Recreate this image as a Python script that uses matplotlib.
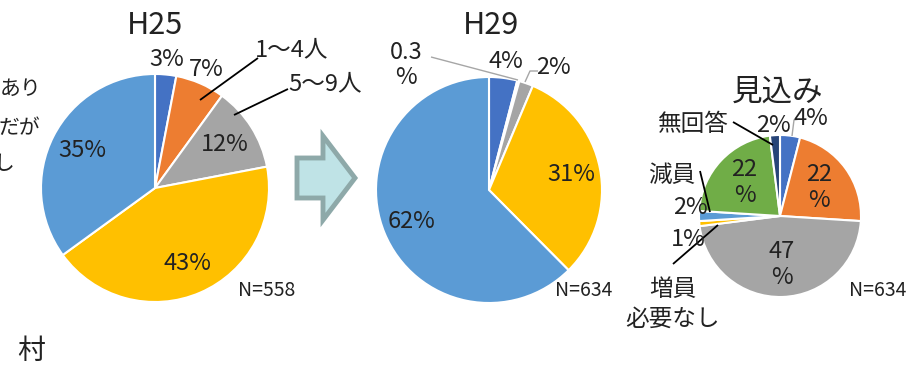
import numpy as np
import matplotlib.pyplot as plt
from matplotlib.patches import Polygon

plt.rcParams['font.family'] = ['Noto Sans CJK JP', 'DejaVu Sans']

W, H = 912, 368

# データ
h25_vals = [3, 7, 12, 43, 35]
h25_labels = ['3%', '7%', '12%', '43%', '35%']
h29_vals = [4, 0.3, 2, 31, 62]
h29_labels = ['4%', '0.3\n%', '2%', '31%', '62%']
mikomi_vals = [4, 22, 47, 1, 2, 22, 2]
mikomi_labels = ['4%', '22\n%', '47\n%', '1%', '2%', '22\n%', '2%']

colors5 = ['#4472C4', '#ED7D31', '#A5A5A5', '#FFC000', '#5B9BD5']
colors7 = ['#4472C4', '#ED7D31', '#A5A5A5', '#FFC000', '#5B9BD5', '#70AD47', '#264478']

fig = plt.figure(figsize=(9.12, 3.68), dpi=100)
ax = fig.add_axes([0, 0, 1, 1])


def draw_pie(vals, colors, cx, cy, r):
    # cx, cy は画像のピクセル座標（y は上から）
    ax.pie(vals, colors=colors, center=(cx, H - cy), radius=r, startangle=90,
           counterclock=False, wedgeprops=dict(edgecolor='white', linewidth=1.5))


def label_pos(vals, i, cx, cy, r, frac):
    total = sum(vals)
    mid = (sum(vals[:i]) + vals[i] / 2) / total * 2 * np.pi
    return cx + frac * r * np.sin(mid), cy - frac * r * np.cos(mid)


def txt(x, y, s, size=17, ha='center', color='#222222'):
    ax.text(x, H - y, s, fontsize=size, ha=ha, va='center', color=color,
            linespacing=1.15)


def line(pts, color='black', lw=1.3):
    xs = [p[0] for p in pts]
    ys = [H - p[1] for p in pts]
    ax.plot(xs, ys, color=color, lw=lw, solid_capstyle='butt')


# H25
c25 = (155, 188, 114)
draw_pie(h25_vals, colors5, *c25)
for i, frac in [(0, 1.13), (1, 1.13), (2, 0.72), (3, 0.72), (4, 0.72)]:
    x, y = label_pos(h25_vals, i, *c25, frac)
    txt(x, y, h25_labels[i])
txt(155, 25, 'H25', size=22)
txt(267, 290, 'N=558', size=14)
txt(255, 50, '1〜4人', size=17, ha='left')
line([(258, 58), (200, 100)])
txt(288, 84, '5〜9人', size=17, ha='left')
line([(288, 89), (234, 115)])

# 左端の切れた文字
txt(0, 89, 'あり', size=15, ha='left')
txt(40, 128, 'だが', size=15, ha='right')
txt(4, 164, 'し', size=15)
txt(31, 351, '村', size=20)

# 矢印
arrow = Polygon([(297, H - 158), (323, H - 158), (323, H - 136), (355, H - 178),
                 (323, H - 220), (323, H - 198), (297, H - 198)],
                closed=True, facecolor='#BFE3E6', edgecolor='#8EA9A9', lw=3.5,
                joinstyle='miter')
ax.add_patch(arrow)

# H29
c29 = (489, 190, 113)
draw_pie(h29_vals, colors5, *c29)
x, y = label_pos(h29_vals, 0, *c29, 1.15)
txt(x, y, h29_labels[0])
for i in [3, 4]:
    x, y = label_pos(h29_vals, i, *c29, 0.74)
    txt(x, y, h29_labels[i])
txt(406, 65, h29_labels[1])
line([(431, 57), (518, 80)], color='#A6A6A6', lw=1.0)
txt(553, 67, h29_labels[2])
line([(538, 71), (530, 71), (525, 82)], color='#A6A6A6', lw=1.0)
txt(491, 25, 'H29', size=22)
txt(584, 290, 'N=634', size=14)

# 見込み
cm = (780, 216, 81)
draw_pie(mikomi_vals, colors7, *cm)
for i in [1, 2, 5]:
    x, y = label_pos(mikomi_vals, i, *cm, 0.6)
    txt(x, y, mikomi_labels[i])
txt(811, 119, mikomi_labels[0])
line([(800, 119), (794, 120), (792, 136)], color='#A6A6A6', lw=1.0)
txt(773, 126, mikomi_labels[6])
txt(690, 208, mikomi_labels[4])
txt(688, 240, mikomi_labels[3])
txt(778, 92, '見込み', size=22)
txt(693, 125, '無回答', size=17)
line([(733, 122), (773, 145)])
txt(672, 175, '減員', size=17)
line([(700, 171), (710, 212)])
txt(673, 289, '増員', size=17)
txt(673, 319, '必要なし', size=17)
line([(673, 264), (718, 225)])
txt(878, 290, 'N=634', size=14)

ax.set_xlim(0, W)
ax.set_ylim(0, H)
ax.set_aspect('equal')
ax.axis('off')

fig.savefig('out.png', dpi=100)
